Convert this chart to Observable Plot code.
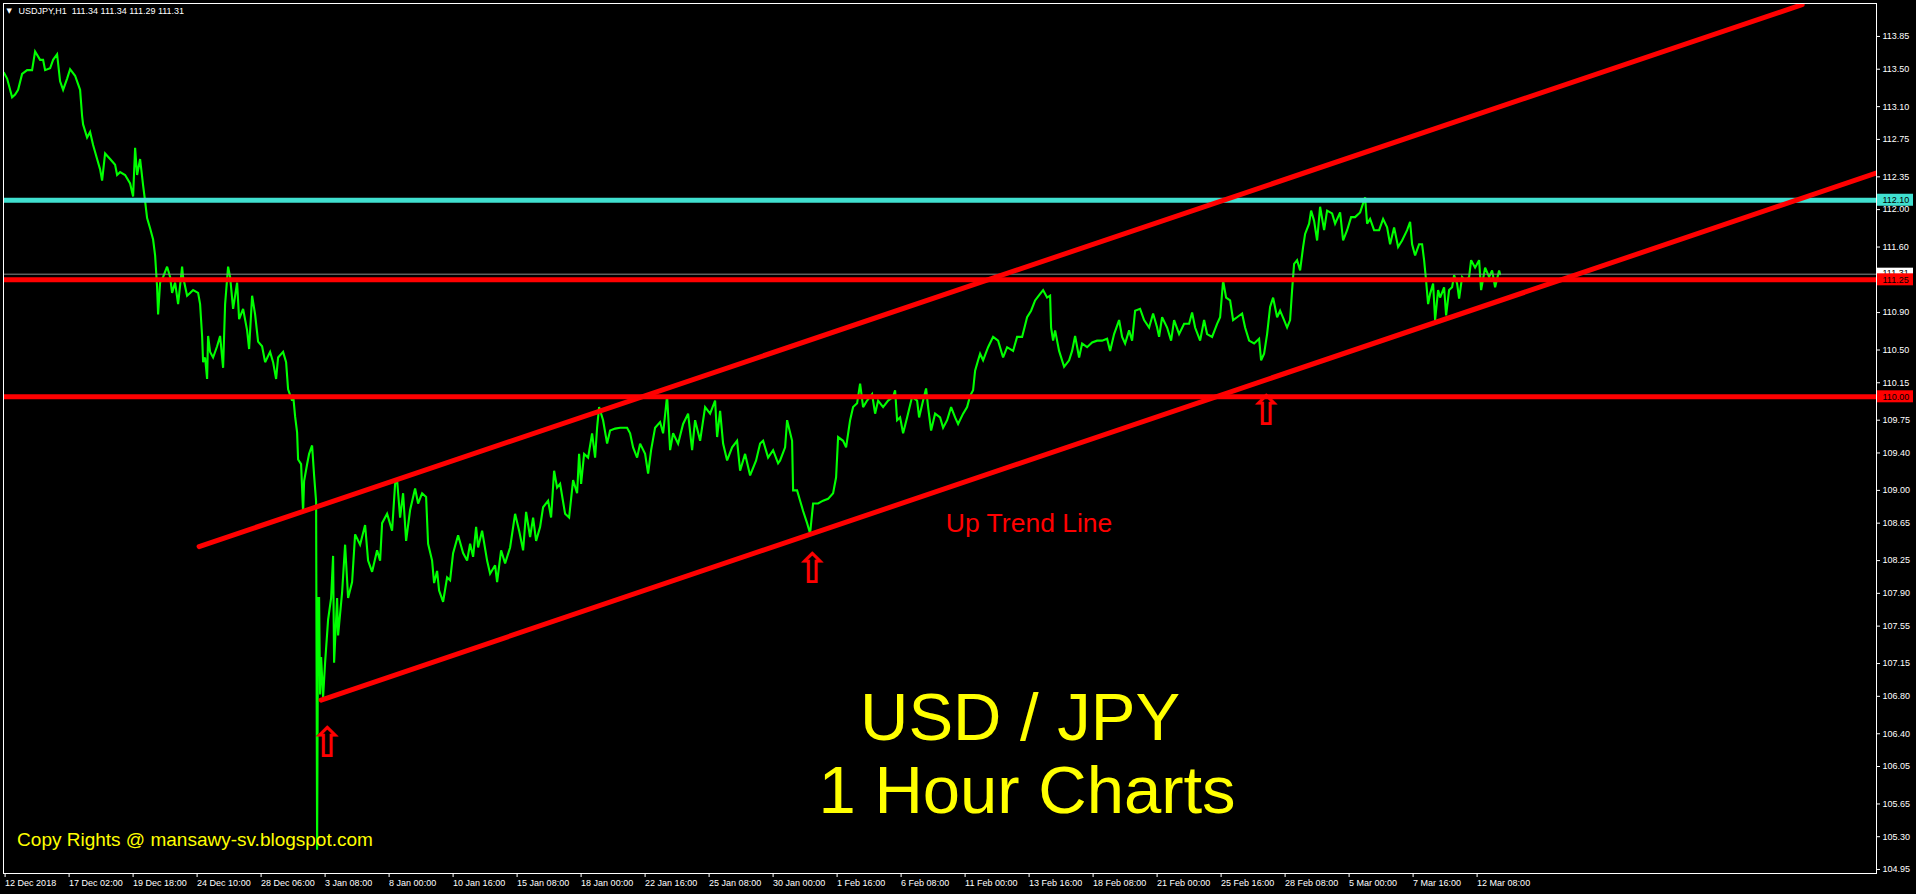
<!DOCTYPE html>
<html><head><meta charset="utf-8">
<script src="https://cdn.jsdelivr.net/npm/d3@7"></script>
<script src="https://cdn.jsdelivr.net/npm/@observablehq/plot@0.6"></script>
<style>
html,body{margin:0;padding:0;background:#000;overflow:hidden;}
#chart svg{display:block;}
</style></head><body><div id="chart"></div>
<script>
// ---- data (hourly bar index since 12 Dec 2018, price) ----
const barIndex = [0,3,8,11,14,18,23,28,31,36,39,41,46,49,53,56,59,63,66,71,76,78,79,83,86,89,93,96,98,101,106,111,113,116,121,126,129,131,133,136,139,141,143,146,149,151,153,154,156,159,163,166,168,171,174,178,179,183,186,189,194,196,198,199,201,203,204,206,209,213,216,219,221,224,226,229,233,235,239,243,245,248,251,254,258,261,266,269,272,274,279,282,284,288,289,291,293,294,297,299,300,303,305,308,310,312,313,314,315,316,317,319,321,324,327,329,330,333,334,338,341,344,348,351,356,361,364,368,373,
376,378,383,388,391,393,396,399,402,406,411,414,418,422,424,428,430,433,435,439,443,446,449,454,459,463,466,469,472,474,478,483,486,491,493,497,501,506,511,515,519,522,526,529,532,536,539,544,547,550,553,556,561,565,569,573,575,577,580,584,588,591,593,595,599,603,606,611,616,623,626,629,633,636,641,644,647,651,656,659,663,666,669,674,679,684,688,691,696,701,706,711,713,716,719,723,728,733,736,741,746,752,756,759,764,769,774,
776,781,783,788,789,793,796,799,803,806,809,814,819,824,829,832,834,839,842,846,849,853,856,859,863,868,871,874,879,884,889,891,893,896,899,903,908,913,915,919,922,924,927,931,936,939,943,947,951,954,959,963,966,969,971,974,976,979,984,989,994,999,1003,1009,1013,1018,1023,1027,1031,1036,1039,1043,1046,1047,1049,1051,1055,1060,1065,1068,1071,1075,1078,1083,1088,1093,1098,1103,1106,1110,1115,1118,1121,1125,1128,1131,1136,
1140,1145,1149,1153,1155,1158,1163,1167,1170,1175,1180,1185,1188,1191,1196,1200,1203,1208,1213,1216,1219,1222,1226,1229,1233,1238,1241,1245,1250,1255,1257,1260,1263,1266,1269,1273,1276,1280,1283,1286,1288,1290,1293,1296,1299,1301,1305,1307,1310,1313,1316,1320,1323,1328,1331,1336,1339,1343,1347,1351,1356,1361,1363,1366,1370,1375,1379,1383,1386,1390,1394,1398,1403,1406,1408,1411,1415,1418,1420,1422,1424,1426,1429,1431,1434,1436,1440,1442,1445,1448,1450,1453,1455,1458,1461,1465,1467,1471,1475,1477,1481,1485,1488,1491,1495,1496];
const price = [113.46,113.40,113.20,113.23,113.28,113.45,113.49,113.49,113.69,113.60,113.60,113.49,113.51,113.60,113.66,113.37,113.28,113.40,113.50,113.43,113.28,113.00,112.91,112.77,112.83,112.69,112.54,112.43,112.31,112.60,112.54,112.48,112.37,112.40,112.37,112.28,112.14,112.66,112.37,112.54,112.26,112.09,111.91,111.80,111.68,111.51,111.17,110.88,111.22,111.28,111.39,111.28,111.11,111.22,110.99,111.39,111.28,111.08,111.11,111.14,111.11,110.99,110.65,110.37,110.42,110.19,110.65,110.48,110.42,110.54,110.65,110.31,110.99,111.39,111.28,110.94,111.22,110.83,110.94,110.71,110.51,111.08,110.88,110.59,110.54,110.37,110.48,110.37,110.19,110.42,110.48,110.37,110.08,109.96,110.02,109.79,109.62,109.33,109.28,108.76,109.10,109.28,109.39,109.48,109.16,108.88,105.16,107.85,107.85,106.82,107.22,106.79,107.16,107.62,107.85,108.30,107.16,107.85,107.45,107.91,108.42,107.85,108.02,108.53,108.42,108.63,108.25,108.13,108.36,
108.25,108.65,108.75,108.57,109.07,109.11,108.71,108.97,108.46,108.79,109.02,108.86,108.97,108.93,108.43,108.25,108.01,108.14,107.93,107.81,108.07,108.04,108.33,108.52,108.33,108.25,108.43,108.29,108.61,108.39,108.57,108.25,108.11,108.20,108.02,108.36,108.22,108.39,108.75,108.57,108.36,108.77,108.50,108.71,108.46,108.61,108.82,108.89,108.71,109.21,109.03,109.07,108.75,108.71,109.11,108.97,109.39,109.07,109.39,109.35,109.61,109.35,109.67,109.89,109.75,109.50,109.64,109.66,109.67,109.67,109.61,109.46,109.35,109.50,109.39,109.18,109.43,109.67,109.73,109.61,110.01,109.43,109.61,109.50,109.71,109.82,109.43,109.75,109.53,109.89,109.82,109.96,109.57,109.85,109.50,109.32,109.46,109.53,109.21,109.39,109.16,109.32,109.50,109.53,109.35,109.43,109.29,
109.32,109.46,109.75,109.53,109.00,109.00,108.89,108.78,108.65,108.54,108.86,108.86,108.89,108.91,108.97,109.14,109.57,109.53,109.46,109.75,109.89,109.93,110.14,109.89,109.96,110.03,109.82,109.96,109.89,109.96,110.00,110.07,109.75,109.78,109.61,109.78,110.00,109.96,109.78,109.96,110.09,109.89,109.64,109.82,109.78,109.67,109.75,109.89,109.78,109.71,109.82,109.89,110.01,110.07,110.28,110.39,110.46,110.39,110.53,110.64,110.60,110.42,110.53,110.49,110.64,110.64,110.85,110.92,111.03,111.10,111.14,111.06,111.08,110.74,110.60,110.71,110.49,110.32,110.39,110.49,110.65,110.42,110.57,110.53,110.58,110.60,110.60,110.62,110.49,110.67,110.82,110.64,110.57,110.71,110.60,110.92,110.94,
110.82,110.74,110.89,110.74,110.64,110.85,110.74,110.60,110.82,110.67,110.78,110.78,110.90,110.74,110.60,110.82,110.67,110.64,110.78,110.85,111.24,111.06,111.03,110.82,110.85,110.89,110.74,110.60,110.57,110.62,110.39,110.46,110.67,110.96,111.06,110.85,110.92,110.82,110.74,110.82,111.14,111.42,111.46,111.35,111.60,111.74,111.85,111.99,111.88,111.67,112.03,111.78,111.99,111.96,111.85,111.97,111.67,111.78,111.92,111.92,111.97,112.13,111.85,111.90,111.78,111.78,111.90,111.81,111.63,111.81,111.60,111.67,111.78,111.87,111.63,111.51,111.63,111.63,111.46,111.24,110.99,111.10,111.21,110.82,111.14,111.06,111.17,110.87,111.14,111.17,111.30,111.21,111.05,111.28,111.24,111.28,111.46,111.38,111.46,111.14,111.38,111.28,111.35,111.17,111.35,111.31];

const xTickBars = [0,64,128,192,256,320,384,448,512,576,640,704,768,832,896,960,1024,1088,1152,1216,1280,1344,1408,1472];
const xTickLabels = ["12 Dec 2018","17 Dec 02:00","19 Dec 18:00","24 Dec 10:00","28 Dec 06:00","3 Jan 08:00","8 Jan 00:00","10 Jan 16:00","15 Jan 08:00","18 Jan 00:00","22 Jan 16:00","25 Jan 08:00","30 Jan 00:00","1 Feb 16:00","6 Feb 08:00","11 Feb 00:00","13 Feb 16:00","18 Feb 08:00","21 Feb 00:00","25 Feb 16:00","28 Feb 08:00","5 Mar 00:00","7 Mar 16:00","12 Mar 08:00"];
// 111.25 is shown by its level label box instead of a tick label
const yTickValues = [113.85,113.50,113.10,112.75,112.35,112.00,111.60,110.90,110.50,110.15,109.75,109.40,109.00,108.65,108.25,107.90,107.55,107.15,106.80,106.40,106.05,105.65,105.30,104.95];

const levelValues = [112.10, 111.25, 110.00];      // horizontal lines
const bidPrice = 111.31;
const headerText = "USDJPY,H1  111.34 111.34 111.29 111.31";

const upperChannelBars = [195, 1798];
const upperChannelPrices = [108.40, 114.19];
const trendLineBars = [317, 1872];
const trendLinePrices = [106.76, 112.39];

const arrowBars = [323, 808, 1262];
const arrowPrices = [106.30, 108.15, 109.84];

const notes = [
  {text: "Up Trend Line", bar: 1025, price: 108.65},
  {text: "USD / JPY", bar: 1016, price: 106.56},
  {text: "1 Hour Charts", bar: 1023, price: 105.78}
];
const copyright = {text: "Copy Rights @ mansawy-sv.blogspot.com", bar: 13, price: 105.27};

// ---- build ----
const series = barIndex.map((b, i) => ({bar: b, price: price[i]}));
const upper = upperChannelBars.map((b, i) => ({bar: b, price: upperChannelPrices[i]}));
const lower = trendLineBars.map((b, i) => ({bar: b, price: trendLinePrices[i]}));
const arrows = arrowBars.map((b, i) => ({bar: b, price: arrowPrices[i]}));
const levelColors = ["#40E0D0", "#FF0000", "#FF0000"];
const xMax = 1872.4;
const font = "'Liberation Sans', Arial, sans-serif";

const chart = Plot.plot({
  width: 1916,
  height: 894,
  marginLeft: 3,
  marginRight: 40,
  marginTop: 3,
  marginBottom: 21,
  style: {background: "#000", color: "#fff", fontFamily: font, fontSize: "9px"},
  x: {domain: [-0.6, xMax], axis: null},
  y: {domain: [104.907, 114.202], axis: null},
  marks: [
    // price bars
    Plot.line(series, {x: "bar", y: "price", stroke: "#00FF00", strokeWidth: 2.1, strokeLinejoin: "miter", strokeMiterlimit: 3, clip: true}),
    // bid line
    Plot.ruleY([bidPrice], {stroke: "#8c8c8c", strokeWidth: 1}),
    // horizontal levels
    Plot.ruleY(levelValues, {stroke: (d, i) => levelColors[i], strokeWidth: 5}),
    // channel lines
    Plot.line(upper, {x: "bar", y: "price", stroke: "#FF0000", strokeWidth: 5, clip: true}),
    Plot.line(lower, {x: "bar", y: "price", stroke: "#FF0000", strokeWidth: 5, clip: true}),
    // arrows
    Plot.text(arrows, {x: "bar", y: "price", text: () => "\u21E7", fill: "#FF0000", fontSize: 42, fontWeight: "bold", fontFamily: "'DejaVu Sans', sans-serif"}),
    // annotations
    Plot.text([notes[0]], {x: "bar", y: "price", text: "text", fill: "#FF0000", fontSize: 26.5, fontFamily: font}),
    Plot.text(notes.slice(1), {x: "bar", y: "price", text: "text", fill: "#FFFF00", fontSize: 67, fontFamily: font}),
    Plot.text([copyright], {x: "bar", y: "price", text: "text", fill: "#FFFF00", fontSize: 19, textAnchor: "start", fontFamily: font}),
    // frame
    Plot.frame({stroke: "#fff", strokeWidth: 1}),
    // axes
    Plot.axisY({anchor: "right", ticks: yTickValues, tickFormat: d => d.toFixed(2), tickSize: 3, tickPadding: 3, stroke: "#fff", fill: "#fff", fontSize: 9, label: null}),
    Plot.axisX({anchor: "bottom", ticks: xTickBars, tickFormat: d => xTickLabels[xTickBars.indexOf(d)], tickSize: 4, tickPadding: 2, textAnchor: "start", dx: 1, stroke: "#fff", fill: "#fff", fontSize: 9, label: null}),
    // price label boxes on the right
    Plot.rect([bidPrice], {x1: xMax, x2: xMax, y1: d => d, y2: d => d, insetLeft: 1, insetRight: -37, insetTop: -6, insetBottom: -6, fill: "#fff"}),
    Plot.text([bidPrice], {x: xMax, y: d => d, text: d => d.toFixed(2), textAnchor: "start", dx: 6, dy: -1, fill: "#000", fontSize: 9}),
    Plot.rect(levelValues, {x1: xMax, x2: xMax, y1: d => d, y2: d => d, insetLeft: 1, insetRight: -37, insetTop: -6, insetBottom: -6, fill: (d, i) => levelColors[i]}),
    Plot.text(levelValues, {x: xMax, y: d => d, text: d => d.toFixed(2), textAnchor: "start", dx: 6, fill: "#000", fontSize: 9}),
    // header
    Plot.text([0], {frameAnchor: "top-left", text: () => "\u25BC", dx: 3, dy: 5, fill: "#fff", fontSize: 7, fontFamily: "'DejaVu Sans', sans-serif"}),
    Plot.text([0], {frameAnchor: "top-left", text: () => headerText, dx: 15, dy: 4.5, fill: "#fff", fontSize: 9})
  ]
});
document.getElementById("chart").appendChild(chart);
</script>
</body></html>
